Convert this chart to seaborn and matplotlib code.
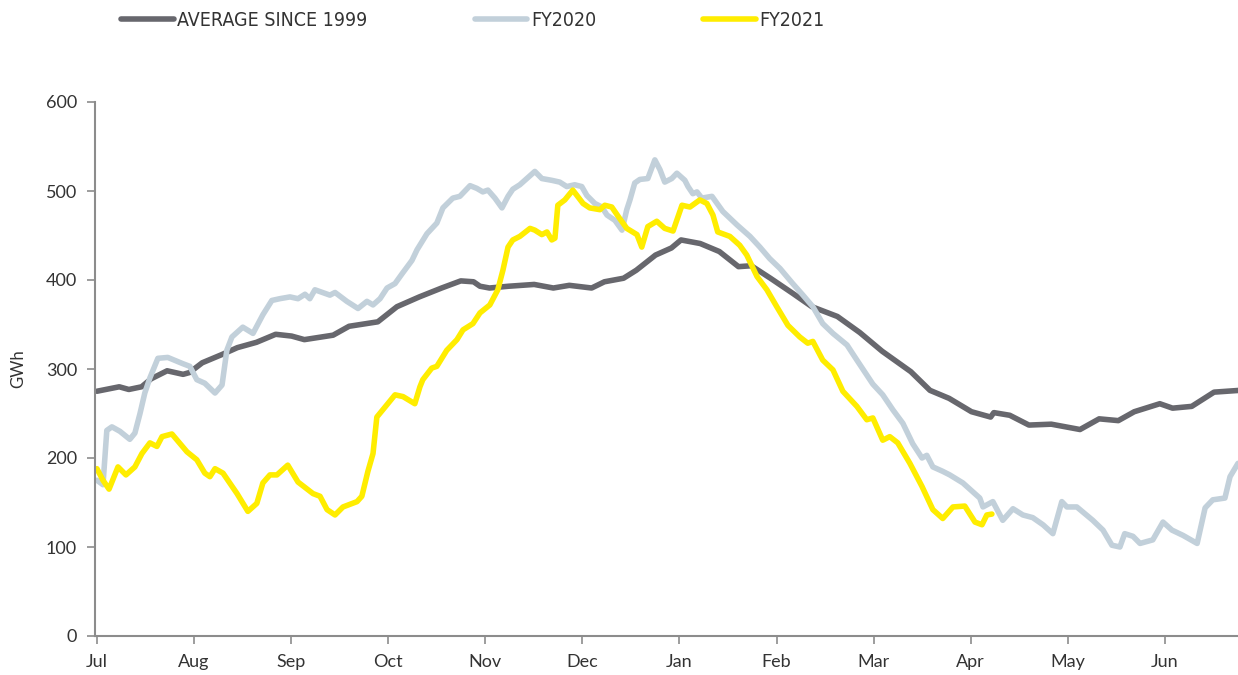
import numpy as np
import pandas as pd
import matplotlib
matplotlib.use('Agg')
import matplotlib.pyplot as plt
import seaborn as sns

# days since 1 July, GWh
avg_days = [0, 7, 10, 14, 17, 22, 27, 29, 33, 39, 44, 50, 56, 61, 65, 74, 79, 88, 94, 101,
            108, 114, 118, 120, 123, 129, 137, 143, 148, 155, 159, 165, 169, 175, 180, 183,
            189, 195, 201, 205, 211, 218, 224, 232, 239, 246, 255, 261, 267, 274, 280, 281,
            286, 292, 299, 308, 314, 320, 325, 333, 337, 343, 350, 358]
avg_gwh = [275, 280, 277, 280, 289, 298, 294, 296, 307, 316, 324, 330, 339, 337, 333, 338, 348, 353, 370, 381,
           391, 399, 398, 393, 391, 393, 395, 391, 394, 391, 398, 402, 411, 428, 436, 445,
           441, 432, 415, 416, 402, 385, 370, 359, 341, 320, 297, 276, 267, 252, 246, 251,
           248, 237, 238, 232, 244, 242, 252, 261, 256, 258, 274, 276]

fy20_days = [0, 1.9, 3.1, 4.7, 7.2, 10.3, 11.9, 13.5, 15, 16.6, 19.1, 22.2, 26.9, 29.1, 31.3, 33.8,
             37, 39.2, 40.7, 42.3, 45.7, 48.9, 52, 54.8, 57.3, 60.5, 63, 65.2, 66.7, 68.3, 73, 74.6,
             78.3, 81.8, 84.6, 86.5, 88.7, 90.9, 93.4, 95.6, 98.7, 100.3, 103.4, 106.5, 108.4, 111.5,
             113.7, 116.9, 119, 120.9, 122.5, 124.7, 126.9, 128.8, 130.3, 132.5, 134.7, 137.2, 139.4,
             142.5, 145, 147.2, 149.7, 151.9, 153.5, 156, 158.2, 159.8, 162.3, 164.5, 166, 167, 168.5,
             170.1, 172.6, 174.8, 176.4, 177.9, 180.1, 181.7, 184.2, 185.2, 186.7, 188, 189.5, 192.7,
             196.1, 200.5, 204.6, 207.7, 210.8, 214, 218, 221.2, 224.3, 227.4, 230.6, 235, 238.1,
             243.1, 246.2, 249.4, 252.5, 255.6, 258.5, 260, 261.9, 265, 267.2, 271.3, 274.4, 276.6,
             277.6, 280.7, 283.8, 287, 290.1, 293.2, 296.4, 299.5, 302.3, 303.9, 307, 312, 315.2,
             318, 320.5, 322, 324.6, 326.8, 330.8, 334, 336.8, 340.3, 344.7, 347.2, 349.6, 353.4,
             355, 357.5]
fy20_gwh = [175, 170, 231, 235, 230, 221, 228, 250, 273, 290, 312, 313, 306, 303, 288, 284,
            273, 282, 321, 336, 347, 340, 361, 377, 379, 381, 379, 384, 379, 389, 383, 386,
            376, 368, 376, 372, 379, 391, 396, 407, 422, 434, 452, 464, 481, 492,
            494, 506, 503, 499, 501, 492, 481, 494, 502, 507, 514, 522, 514,
            512, 510, 505, 507, 505, 495, 486, 482, 473, 467, 456, 479, 490, 509,
            513, 514, 535, 524, 510, 514, 520, 512, 505, 497, 499, 492, 494,
            477, 462, 449, 437, 424, 413, 396, 383, 370, 351, 340, 327, 310,
            283, 271, 254, 239, 216, 200, 203, 190, 185, 181, 172, 162, 155,
            145, 151, 130, 143, 136, 133, 125, 115, 151, 145, 145, 130, 119,
            102, 100, 115, 112, 104, 108, 128, 119, 113, 104, 144, 153, 155,
            179, 194]

fy21_days = [0, 1.9, 3.8, 6.6, 9.1, 11.9, 14.1, 16.6, 18.8, 20.4, 23.5, 28.2, 31.3, 33.8, 35.4, 37,
             39.5, 43.9, 47.3, 50.1, 52, 54.2, 56.4, 59.8, 63, 67.7, 69.9, 72.1, 74.6, 77.1, 81.5, 83,
             84.9, 86.5, 87.7, 90.9, 93.4, 95.9, 99.6, 101.2, 102.1, 104.9, 106.5, 109.6, 112.8, 114.7,
             117.8, 120, 123.1, 125.6, 127.2, 128.8, 130.3, 132.5, 135.7, 137.2, 139.4, 141, 142.5,
             143.5, 144.4, 146.6, 149.1, 152.3, 154.4, 157.6, 159.1, 161.3, 163.8, 166, 169.2, 170.7,
             172.6, 175.4, 177.9, 180.5, 183.3, 185.8, 188.9, 191.1, 193, 194.5, 198.3, 201.4, 203.6,
             206.8, 209.9, 213, 216.5, 220.2, 222.7, 224.3, 227.4, 230.6, 233.7, 236.8, 238.1, 241.2,
             243.1, 246.2, 248.4, 250.9, 254.7, 258.5, 261.9, 265, 268.2, 271.9, 275.1, 277.3, 278.8,
             280.4]
fy21_gwh = [188, 175, 165, 190, 181, 190, 205, 217, 213, 224, 227, 207, 198, 183, 179, 188,
            183, 160, 140, 149, 172, 181, 181, 192, 173, 160, 157, 142, 136, 145, 151, 157,
            185, 205, 246, 260, 271, 269, 261, 280, 288, 301, 303, 321, 333, 344,
            351, 363, 372, 389, 411, 437, 445, 449, 458, 456, 451, 454, 445,
            447, 484, 490, 501, 486, 481, 479, 484, 482, 469, 458, 451, 437,
            460, 466, 458, 455, 484, 482, 490, 486, 473, 454, 449, 439, 428,
            404, 389, 370, 349, 336, 329, 331, 310, 299, 275, 263, 258, 243,
            245, 220, 224, 217, 194, 168, 142, 132, 145, 146, 128, 125, 136,
            137]

months = ['Jul', 'Aug', 'Sep', 'Oct', 'Nov', 'Dec', 'Jan', 'Feb', 'Mar', 'Apr', 'May', 'Jun']
series = [('AVERAGE SINCE 1999', avg_days, avg_gwh, '#67676d'),
          ('FY2020', fy20_days, fy20_gwh, '#c2d0da'),
          ('FY2021', fy21_days, fy21_gwh, '#ffed00')]

sns.set_style('ticks')
plt.rcParams['font.family'] = ['Lato', 'DejaVu Sans']

fig = plt.figure(figsize=(12.38, 6.75), dpi=100)
ax = fig.add_axes([95 / 1238, 39 / 675, 1 - 95 / 1238, 534 / 675])

for name, d, v, c in series:
    df = pd.DataFrame({'day': d, 'gwh': v})
    sns.lineplot(data=df, x='day', y='gwh', ax=ax, color=c, lw=4, label=name,
                 solid_capstyle='round', solid_joinstyle='round', sort=False)

month_len = 365 / 12
ax.set_xlim(-0.6, 357.5)
ax.set_ylim(0, 600)
ax.set_xticks(np.arange(12) * month_len)
ax.set_xticklabels(months)
ax.set_yticks(np.arange(0, 601, 100))
ax.set_xlabel('')
ax.set_ylabel('GWh', fontsize=12, color='#333333', labelpad=14)

for s in ['top', 'right']:
    ax.spines[s].set_visible(False)
for s in ['left', 'bottom']:
    ax.spines[s].set_color('#8c8c8c')
    ax.spines[s].set_linewidth(1.5)
ax.tick_params(axis='both', colors='#8c8c8c', length=6, width=1.2, labelsize=13,
               labelcolor='#333333', pad=7)

ax.legend_.remove()
handles, labels = ax.get_legend_handles_labels()
leg = fig.legend(handles, labels, loc='upper left', bbox_to_anchor=(121 / 1238, 1 - 11 / 675),
                 ncol=3, frameon=False, borderpad=0, borderaxespad=0, handlelength=2.7,
                 handletextpad=0.2, columnspacing=5.5,
                 prop={'family': 'DejaVu Sans', 'stretch': 'condensed', 'size': 14})
for t in leg.get_texts():
    t.set_color('#333333')

fig.savefig('out.png', dpi=100)
